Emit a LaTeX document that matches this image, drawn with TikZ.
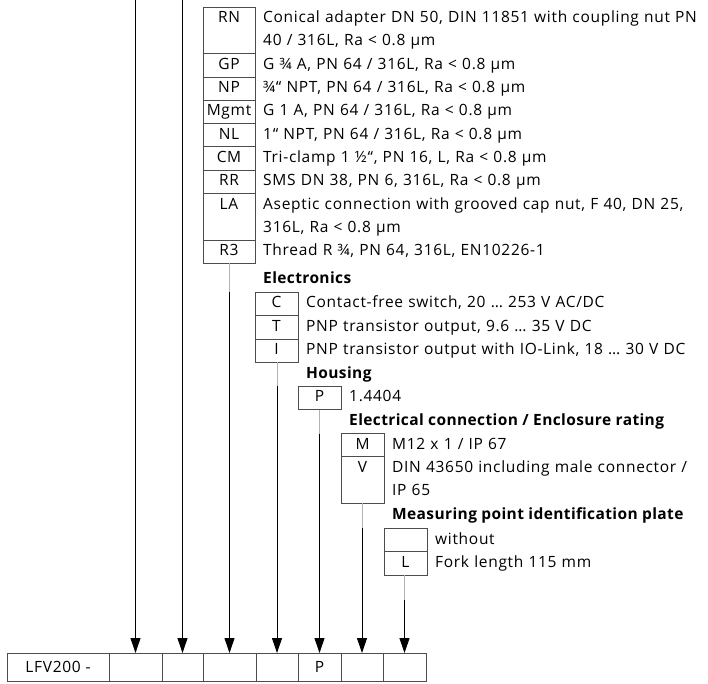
\documentclass[tikz,border=0pt]{standalone}
\usepackage{fontspec}
\setmainfont{Open Sans}[LetterSpace=4.5, BoldFeatures={LetterSpace=2.5}]
\usetikzlibrary{positioning,arrows.meta,calc}

\begin{document}
\begin{tikzpicture}[x=1pt, y=-1pt,
    every node/.style={font=\fontsize{15.5}{23.3}\selectfont},
    codebox/.style={draw=black!70, line width=0.7pt, outer sep=0pt, minimum width=#1,
        text height=10.5pt, text depth=2.5pt, inner xsep=0pt, inner ysep=5.15pt, anchor=north west},
    codebox/.default=43pt,
    tworow/.style={text depth=25.8pt},
    desc/.style={anchor=base west, text width=460pt, align=left, inner xsep=8pt},
    head/.style={anchor=west, inner xsep=0pt, xshift=8pt, font=\fontsize{15.5}{23.3}\selectfont\bfseries},
    cell/.style={draw=black!70, line width=0.7pt, outer sep=0pt, minimum height=28pt,
        minimum width=#1, inner sep=0pt},
    feed/.style={-{Triangle[length=15pt,width=10pt]}, line width=0.9pt},
    stub/.style={black!30, line width=0.9pt}]
    \useasboundingbox (0,0) rectangle (708,683);

    % Process connection
    \node[codebox=52pt, tworow] (rn) at (203,7) {RN};
    \node[codebox=52pt, below=0pt of rn] (gp) {GP};
    \node[codebox=52pt, below=0pt of gp] (np) {NP};
    \node[codebox=52pt, below=0pt of np] (mgmt) {Mgmt};
    \node[codebox=52pt, below=0pt of mgmt] (nl) {NL};
    \node[codebox=52pt, below=0pt of nl] (cm) {CM};
    \node[codebox=52pt, below=0pt of cm] (rr) {RR};
    \node[codebox=52pt, tworow, below=0pt of rr] (la) {LA};
    \node[codebox=52pt, below=0pt of la] (r3) {R3};
    \node[desc] (rn-t) at (rn.base east) {Conical adapter DN 50, DIN 11851 with coupling nut PN\\40 / 316L, Ra < 0.8 µm};
    \node[desc] (gp-t) at (gp.base east) {G ¾ A, PN 64 / 316L, Ra < 0.8 µm};
    \node[desc] (np-t) at (np.base east) {¾“ NPT, PN 64 / 316L, Ra < 0.8 µm};
    \node[desc] (mgmt-t) at (mgmt.base east) {G 1 A, PN 64 / 316L, Ra < 0.8 µm};
    \node[desc] (nl-t) at (nl.base east) {1“ NPT, PN 64 / 316L, Ra < 0.8 µm};
    \node[desc] (cm-t) at (cm.base east) {Tri-clamp 1 ½“, PN 16, L, Ra < 0.8 µm};
    \node[desc] (rr-t) at (rr.base east) {SMS DN 38, PN 6, 316L, Ra < 0.8 µm};
    \node[desc] (la-t) at (la.base east) {Aseptic connection with grooved cap nut, F 40, DN 25,\\316L, Ra < 0.8 µm};
    \node[desc] (r3-t) at (r3.base east) {Thread R ¾, PN 64, 316L, EN10226-1};

    % Electronics
    \node[codebox, below=29pt of r3.south east, anchor=north west] (c) {C};
    \node[codebox, below=0pt of c] (t) {T};
    \node[codebox, below=0pt of t] (i) {I};
    \node[head] (h-elec) at ($(r3.south east)!.5!(c.north west)$) {Electronics};
    \node[desc] (c-t) at (c.base east) {Contact-free switch, 20 … 253 V AC/DC};
    \node[desc] (t-t) at (t.base east) {PNP transistor output, 9.6 … 35 V DC};
    \node[desc] (i-t) at (i.base east) {PNP transistor output with IO-Link, 18 … 30 V DC};

    % Housing
    \node[codebox, below=24pt of i.south east, anchor=north west] (p) {P};
    \node[head] (h-hous) at ($(i.south east)!.5!(p.north west)$) {Housing};
    \node[desc] (p-t) at (p.base east) {1.4404};

    % Electrical connection
    \node[codebox, below=24pt of p.south east, anchor=north west] (m) {M};
    \node[codebox, tworow, below=0pt of m] (v) {V};
    \node[head] (h-conn) at ($(p.south east)!.5!(m.north west)$) {Electrical connection / Enclosure rating};
    \node[desc] (m-t) at (m.base east) {M12 x 1 / IP 67};
    \node[desc] (v-t) at (v.base east) {DIN 43650 including male connector /\\IP 65};

    % Identification plate
    \node[codebox, below=25pt of v.south east, anchor=north west] (wo) {};
    \node[codebox, below=0pt of wo] (l) {L};
    \node[head] (h-plate) at ($(v.south east)!.5!(wo.north west)$) {Measuring point identification plate};
    \node[desc] (wo-t) at (wo.base east) {without};
    \node[desc] (l-t) at (l.base east) {Fork length 115 mm};

    % Type code
    \node[cell=102pt] (type) at (58,667) {LFV200 -};
    \node[cell=53pt, right=0pt of type] (s1) {};
    \node[cell=41pt, right=0pt of s1] (s2) {};
    \node[cell=53pt, right=0pt of s2] (s3) {};
    \node[cell=42pt, right=0pt of s3] (s4) {};
    \node[cell=43pt, right=0pt of s4] (s5) {P};
    \node[cell=42pt, right=0pt of s5] (s6) {};
    \node[cell=43pt, right=0pt of s6] (s7) {};

    % Arrows
    \coordinate (origin) at (0,0);
    \draw[feed] (s1.north |- origin) -- (s1.north);
    \draw[feed] (s2.north |- origin) -- (s2.north);
    \draw[stub] (s3.north |- r3.south) -- (s3.north |- c.north);
    \draw[feed] (s3.north |- c.north) -- (s3.north);
    \draw[stub] (s4.north |- i.south) -- (s4.north |- p.north);
    \draw[feed] (s4.north |- p.north) -- (s4.north);
    \draw[stub] (s5.north |- p.south) -- (s5.north |- m.north);
    \draw[feed] (s5.north |- m.north) -- (s5.north);
    \draw[stub] (s6.north |- v.south) -- (s6.north |- wo.north);
    \draw[feed] (s6.north |- wo.north) -- (s6.north);
    \draw[stub] (s7.north |- l.south) -- (s7.north |- 0,600);
    \draw[feed] (s7.north |- 0,600) -- (s7.north);
\end{tikzpicture}
\end{document}
